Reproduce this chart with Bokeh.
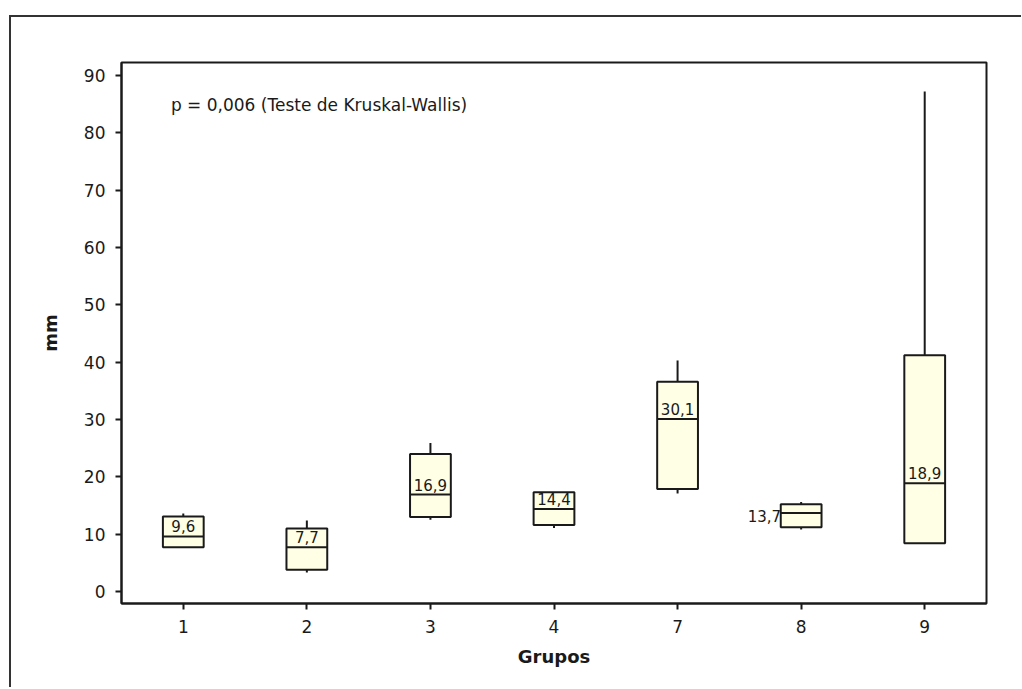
from bokeh.plotting import figure
from bokeh.models import Range1d, FactorRange, ColumnDataSource, Label, FixedTicker
from bokeh.embed import file_html
from bokeh.resources import INLINE
from bokeh.core.properties import value

groups = ["1", "2", "3", "4", "7", "8", "9"]
mins = [7.7, 3.3, 12.5, 11.1, 17.1, 10.8, 8.4]
q1 = [7.7, 3.8, 13.0, 11.6, 17.9, 11.2, 8.4]
medians = [9.6, 7.7, 16.9, 14.4, 30.1, 13.7, 18.9]
q3 = [13.1, 11.0, 24.0, 17.3, 36.6, 15.2, 41.2]
maxs = [13.6, 12.4, 25.9, 17.3, 40.3, 15.6, 87.2]
median_labels = ["9,6", "7,7", "16,9", "14,4", "30,1", "13,7", "18,9"]
label_side = ["top", "top", "top", "top", "top", "left", "top"]
y_ticks = [0, 10, 20, 30, 40, 50, 60, 70, 80, 90]
p_text = "p = 0,006 (Teste de Kruskal-Wallis)"
x_title = "Grupos"
y_title = "mm"

FONT = "DejaVu Sans"
INK = "#1a1a1a"
BOX_FILL = "#FFFFE6"

src = ColumnDataSource(dict(g=groups, lo=mins, q1=q1, med=medians, q3=q3, hi=maxs))

idx_top = [i for i, s in enumerate(label_side) if s == "top"]
idx_left = [i for i, s in enumerate(label_side) if s == "left"]
src_top = ColumnDataSource(dict(g=[groups[i] for i in idx_top],
                                y=[medians[i] for i in idx_top],
                                t=[median_labels[i] for i in idx_top]))
src_left = ColumnDataSource(dict(g=[groups[i] for i in idx_left],
                                 y=[medians[i] for i in idx_left],
                                 t=[median_labels[i] for i in idx_left]))

p = figure(x_range=FactorRange(*groups), y_range=Range1d(-2.09, 92.27),
           frame_width=865, frame_height=541,
           min_border_left=110, min_border_top=45, min_border_right=35, min_border_bottom=84,
           output_backend="svg", toolbar_location=None,
           margin=(15, 0, 0, 9),
           styles={"border-left": "2px solid #333333", "border-top": "2px solid #333333"})

p.background_fill_color = "white"
p.border_fill_color = "white"
p.outline_line_color = INK
p.outline_line_width = 2
p.xgrid.visible = False
p.ygrid.visible = False

# whiskers
p.segment(x0="g", y0="q3", x1="g", y1="hi", source=src, line_color=INK, line_width=2)
p.segment(x0="g", y0="lo", x1="g", y1="q1", source=src, line_color=INK, line_width=2)
# boxes
p.vbar(x="g", width=0.33, bottom="q1", top="q3", source=src,
       fill_color=BOX_FILL, line_color=INK, line_width=2)
# median lines
p.rect(x="g", y="med", width=0.33, height=2, height_units="screen", source=src,
       fill_color=INK, line_color=None)

# median labels
p.text(x="g", y="y", text="t", source=src_top, text_align="center", text_baseline="bottom",
       y_offset=-4, text_font=value(FONT), text_font_size="15px", text_color=INK)
p.text(x="g", y="y", text="t", source=src_left, text_align="right", text_baseline="middle",
       x_offset=-20, y_offset=3, text_font=value(FONT), text_font_size="15px", text_color=INK)

p.add_layout(Label(x=0.4, y=84.9, text=p_text, text_baseline="middle", text_align="left",
                   text_font=FONT, text_font_size="17px", text_color=INK))

for ax in (p.xaxis[0], p.yaxis[0]):
    ax.axis_line_color = INK
    ax.axis_line_width = 2
    ax.major_tick_line_color = INK
    ax.major_tick_line_width = 2
    ax.major_tick_out = 6
    ax.major_tick_in = 0
    ax.minor_tick_line_color = None
    ax.major_label_text_font = FONT
    ax.major_label_text_font_size = "17px"
    ax.major_label_text_color = INK
    ax.axis_label_text_font = FONT
    ax.axis_label_text_font_size = "18px"
    ax.axis_label_text_font_style = "bold"
    ax.axis_label_text_color = INK

p.yaxis.ticker = FixedTicker(ticks=y_ticks)
p.yaxis.major_label_standoff = 10
p.xaxis.major_label_standoff = 10
p.xaxis.axis_label = x_title
p.yaxis.axis_label = y_title
p.xaxis.axis_label_standoff = 10
p.yaxis.axis_label_standoff = 20

open("out.html", "w").write(file_html(p, INLINE))
